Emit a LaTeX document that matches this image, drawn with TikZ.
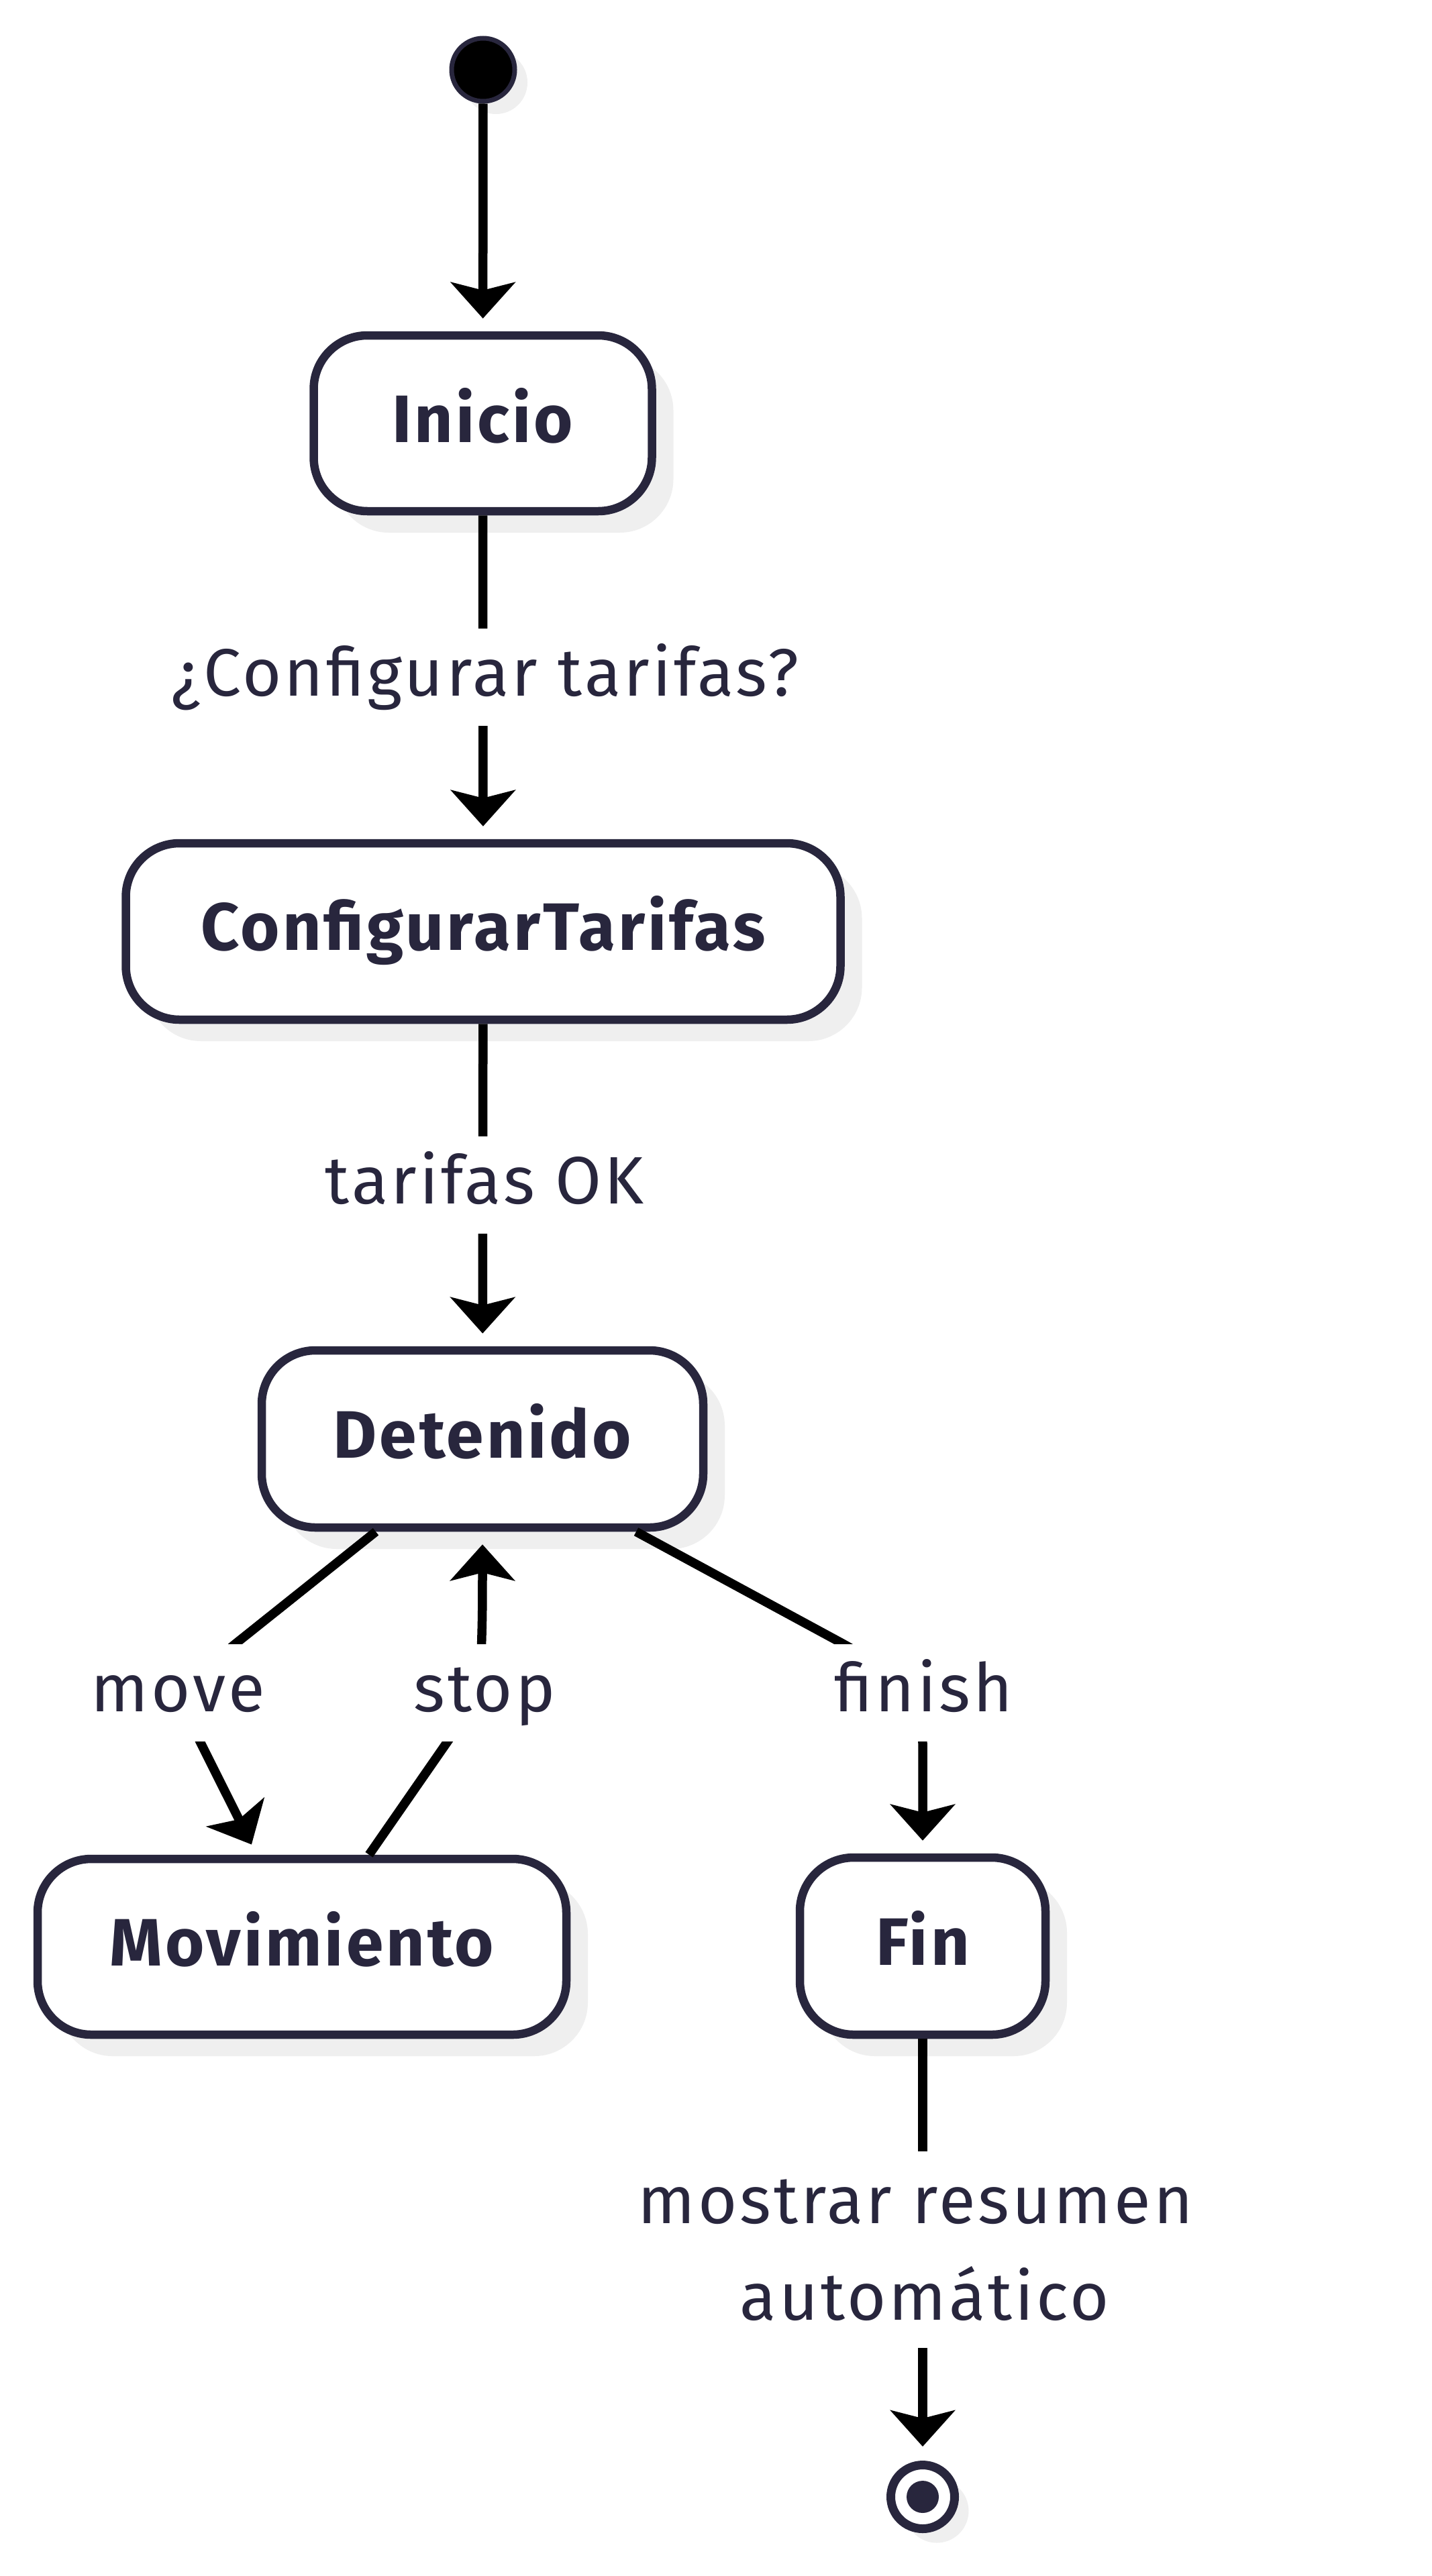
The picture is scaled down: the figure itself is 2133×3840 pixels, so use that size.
\documentclass[tikz,border=0pt]{standalone}
\usepackage{fontspec}
\setmainfont{Fira Sans}[LetterSpace=4]
\usetikzlibrary{arrows.meta,shadows}
\definecolor{ink}{RGB}{40,38,61}
\definecolor{shade}{RGB}{239,239,239}
\newcommand{\nodefont}{\fontsize{100pt}{120pt}\selectfont\bfseries}
\newcommand{\labelfont}{\fontsize{100pt}{144pt}\selectfont}
\begin{document}
\begin{tikzpicture}[x=1pt,y=-1pt,
  state/.style={rectangle, rounded corners=80pt, draw=ink, line width=12.5pt, fill=white,
    inner sep=0pt, minimum height=262pt, text height=78pt, text depth=22pt,
    font=\nodefont, text=ink,
    drop shadow={shadow xshift=32pt, shadow yshift=-32pt, fill=shade, opacity=1}},
  startdot/.style={circle, inner sep=0pt, minimum size=94pt, fill=black, draw=ink, line width=7pt,
    drop shadow={shadow xshift=19pt, shadow yshift=-19pt, fill=shade, opacity=1}},
  endring/.style={circle, inner sep=0pt, minimum size=95pt, fill=white, draw=ink, line width=13pt,
    drop shadow={shadow xshift=21pt, shadow yshift=-21pt, fill=shade, opacity=1}},
  enddot/.style={circle, inner sep=0pt, minimum size=48pt, fill=ink},
  conn/.style={draw=black, line width=13.5pt, -{Stealth[length=54pt,width=96pt,inset=12pt]}},
  lbl/.style={fill=white, inner xsep=12pt, inner ysep=0pt, minimum height=145pt,
    text height=78pt, text depth=22pt, font=\labelfont, text=ink},
  lbltxt/.style={inner sep=0pt, font=\labelfont, text=ink, anchor=base}
]
\fill[white] (0,0) rectangle (2133,3840);
\useasboundingbox (0,0) rectangle (2133,3840);

% states
\node[startdot] (start) at (720,104) {};
\node[state, minimum width=504pt] (inicio) at (719.5,631) {Inicio};
\node[state, minimum width=1065pt, minimum height=263pt] (config) at (720,1388.5) {ConfigurarTarifas};
\node[state, minimum width=658pt, minimum height=264pt] (det) at (719,2145) {Detenido};
\node[state, minimum width=788pt] (mov) at (450,2902) {Movimiento};
\node[state, minimum width=366pt, minimum height=264pt] (fin) at (1375,2901) {Fin};
\node[endring] (end) at (1375,3722) {};
\node[enddot] (enddot) at (end.center) {};

% waypoints
\coordinate (mvA) at (350,2451);
\coordinate (mvB) at (298,2596);
\coordinate (stA) at (667,2596);
\coordinate (stB) at (717.6,2451);
\coordinate (fnA) at (1252,2448);
\coordinate (fnB) at (1375,2599);

% connectors
\draw[conn, shorten >=19pt] (start) -- (inicio);
\draw[conn, shorten >=19pt] (inicio) -- (config);
\draw[conn, shorten >=19pt] (config) -- (det);
\draw[conn, shorten >=17pt] ([xshift=-159pt]det.south) -- (mvA)
  .. controls (310,2483) and (273,2546) .. (mvB) -- ([xshift=-67.5pt]mov.north);
\draw[conn, shorten >=19pt] ([xshift=100pt]mov.north) -- (stA)
  .. controls (690,2563) and (716,2500) .. (stB)
  .. controls (718.5,2420) and (719,2405) .. (det.south);
\draw[conn, shorten >=19pt] ([xshift=229pt]det.south) -- (fnA)
  .. controls (1330,2490) and (1375,2540) .. (fnB) -- (fin.north);
\draw[conn, shorten >=21pt] (fin) -- (end);

% labels
\node[lbl] (l1) at (723,1009.5) {¿Configurar tarifas?};
\node[lbl] (l2) at (722,1766) {tarifas OK};
\node[lbl] (l3) at (265,2523.5) {move};
\node[lbl] (l4) at (722,2523.5) {stop};
\node[lbl] (l5) at (1376,2523.5) {finish};
\node[fill=white, inner sep=0pt, minimum width=850pt, minimum height=293pt] (l6) at (1368,3353.5) {};
\node[lbltxt] (l6a) at (1364,3314.5) {mostrar resumen};
\node[lbltxt] (l6b) at (1378,3458.6) {automático};
\end{tikzpicture}
\end{document}
